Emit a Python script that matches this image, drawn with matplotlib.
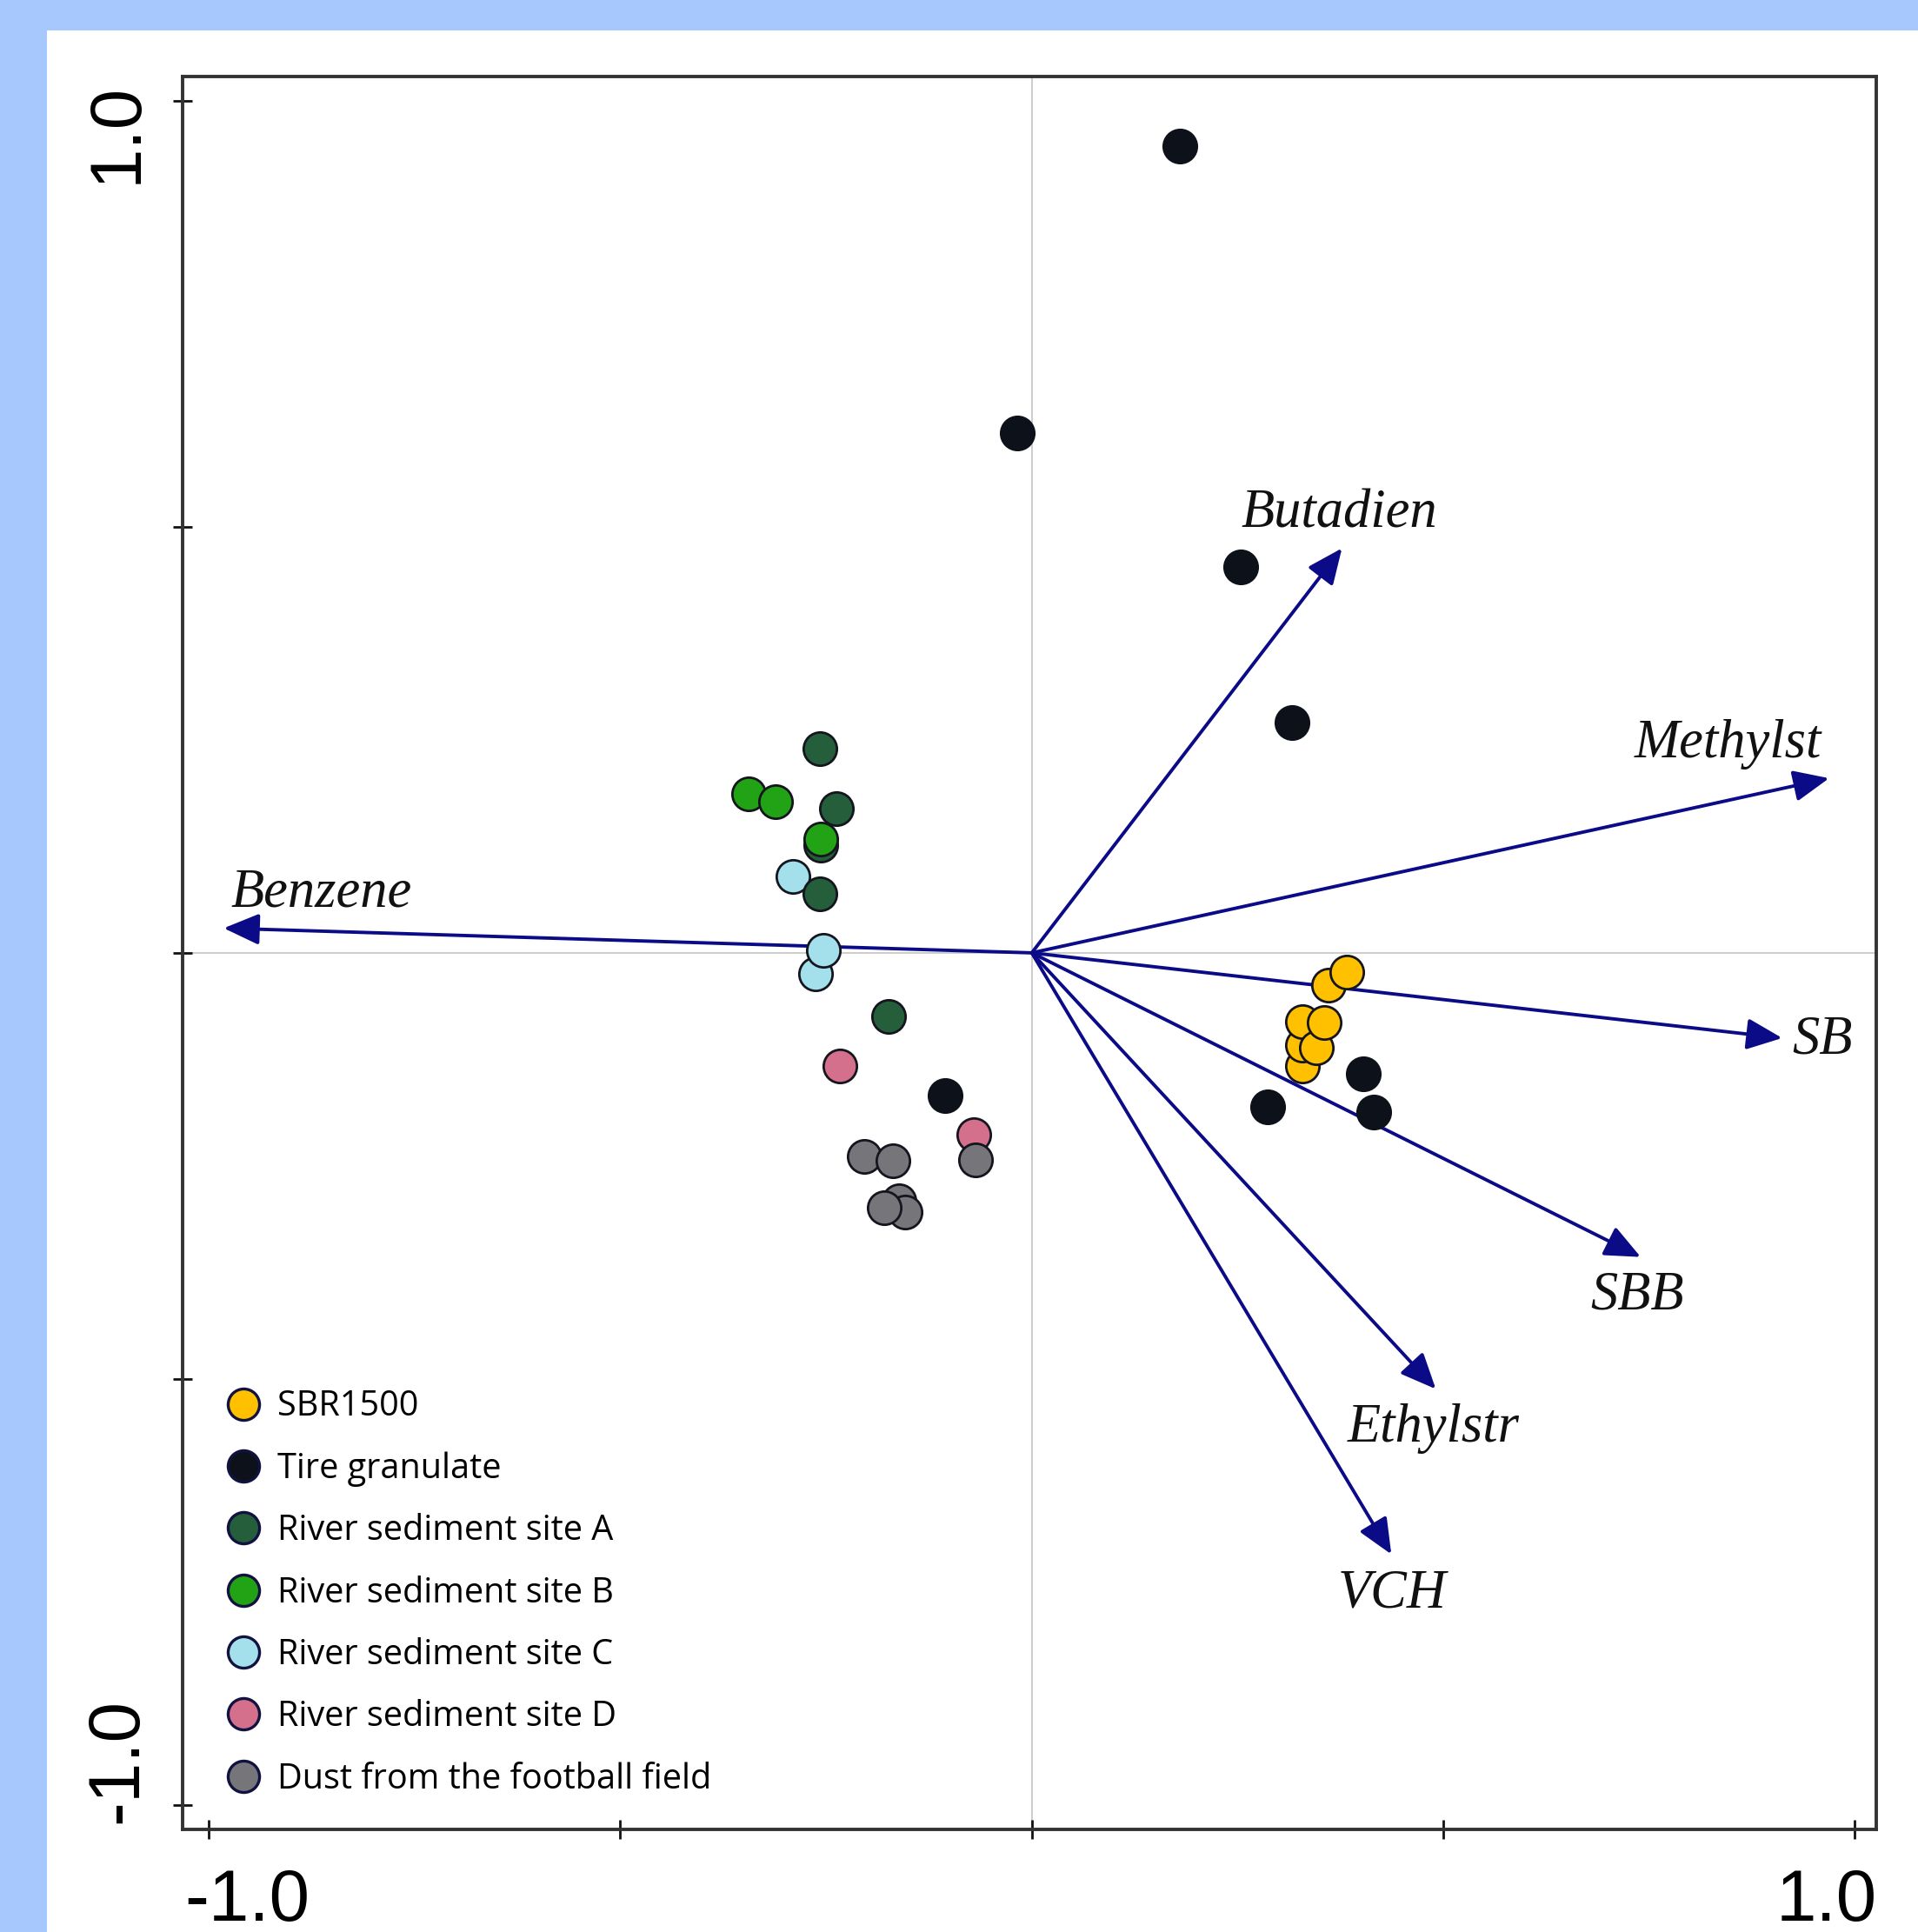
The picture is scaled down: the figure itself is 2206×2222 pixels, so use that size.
import matplotlib
matplotlib.use("Agg")
import matplotlib.pyplot as plt
from matplotlib.patches import Rectangle

# sample scores (axis 1, axis 2)
sbr_x = [0.329, 0.329, 0.329, 0.346, 0.355, 0.361, 0.383]
sbr_y = [-0.133, -0.108, -0.081, -0.111, -0.082, -0.038, -0.023]

tire_x = [0.180, -0.018, 0.254, 0.316, -0.105, 0.403, 0.287, 0.416]
tire_y = [0.947, 0.610, 0.453, 0.270, -0.168, -0.142, -0.181, -0.187]

siteA_x = [-0.257, -0.237, -0.256, -0.257, -0.174]
siteA_y = [0.240, 0.169, 0.126, 0.069, -0.075]

siteB_x = [-0.344, -0.311, -0.256]
siteB_y = [0.187, 0.178, 0.134]

siteC_x = [-0.290, -0.263, -0.253]
siteC_y = [0.090, -0.025, 0.003]

siteD_x = [-0.233, -0.070]
siteD_y = [-0.133, -0.213]

dust_x = [-0.068, -0.204, -0.169, -0.161, -0.154, -0.179]
dust_y = [-0.243, -0.239, -0.244, -0.291, -0.304, -0.299]

# variable loadings (arrows)
var_names = ["Benzene", "Butadien", "Methylst", "SB", "SBB", "Ethylstr", "VCH"]
var_x = [-0.982, 0.377, 0.969, 0.912, 0.740, 0.491, 0.437]
var_y = [0.029, 0.475, 0.205, -0.100, -0.357, -0.512, -0.706]
# where each label sits relative to its arrow tip (points)
label_off = [(81, 29), (-2, 28), (-84, 28), (33, -2), (-3, -32), (-2, -33), (1, -33)]

fig = plt.figure(figsize=(22.06, 22.22), dpi=100, facecolor="#a6c8fc")
# white panel on the blue background
fig.patches.append(Rectangle((0.0245, 0), 1, 0.9842, transform=fig.transFigure,
                             facecolor="white", edgecolor="none", zorder=-5))

ax = fig.add_axes([0.0952, 0.0531, 0.8829, 0.9074])
ax.set_zorder(2)
ax.set_xlim(-1.032, 1.026)
ax.set_ylim(-1.029, 1.029)

# zero lines
ax.axhline(0, color="#c4c4c4", lw=1.2, zorder=1)
ax.axvline(0, color="#c4c4c4", lw=1.2, zorder=1)

# arrows + labels
for name, vx, vy, off in zip(var_names, var_x, var_y, label_off):
    ax.annotate("", xy=(vx, vy), xytext=(0, 0),
                arrowprops=dict(arrowstyle="-|>,head_length=1.25,head_width=0.55",
                                mutation_scale=20, color="#0b0b88", lw=2.8,
                                shrinkA=0, shrinkB=0), zorder=2)
    ax.annotate(name, xy=(vx, vy), xytext=off, textcoords="offset points",
                ha="center", va="center", fontsize=45, style="italic",
                family="Liberation Serif", color="#111111", zorder=3)

edge = "#15151f"
ms = 760
ax.scatter(tire_x, tire_y, s=ms, c="#0d111a", edgecolors="#0d111a", lw=2, zorder=4)
ax.scatter(sbr_x, sbr_y, s=ms, c="#ffc000", edgecolors=edge, lw=2, zorder=4)
ax.scatter(siteC_x, siteC_y, s=ms, c="#a4e0ec", edgecolors=edge, lw=2, zorder=4)
ax.scatter(siteA_x, siteA_y, s=ms, c="#255e3a", edgecolors=edge, lw=2, zorder=4)
ax.scatter(siteB_x, siteB_y, s=ms, c="#22a316", edgecolors=edge, lw=2, zorder=4)
ax.scatter(siteD_x, siteD_y, s=ms, c="#d4708c", edgecolors=edge, lw=2, zorder=4)
ax.scatter(dust_x, dust_y, s=ms, c="#76767a", edgecolors=edge, lw=2, zorder=4)

# legend
leg_labels = ["SBR1500", "Tire granulate", "River sediment site A", "River sediment site B",
              "River sediment site C", "River sediment site D", "Dust from the football field"]
leg_colors = ["#ffc000", "#0d111a", "#255e3a", "#22a316", "#a4e0ec", "#d4708c", "#76767a"]
handles = [plt.Line2D([], [], ls="none", marker="o", markersize=26, markerfacecolor=c,
                      markeredgecolor="#121240", markeredgewidth=2.4) for c in leg_colors]
ax.legend(handles, leg_labels, loc="upper left", bbox_to_anchor=(0.026, 0.251),
          frameon=False, borderpad=0, borderaxespad=0, handlelength=1.0,
          handletextpad=0.47, labelspacing=0.78,
          prop={"family": "Open Sans", "size": 28.5})

# spines and ticks
for s in ax.spines.values():
    s.set_linewidth(2.8)
    s.set_color("#333333")
ax.set_xticks([-1.0, -0.5, 0.0, 0.5, 1.0])
ax.set_yticks([-1.0, -0.5, 0.0, 0.5, 1.0])
ax.set_xticklabels([])
ax.set_yticklabels([])
ax.tick_params(direction="inout", length=16, width=2, color="#111111")

# axis end labels
tfont = dict(family="Liberation Sans", fontsize=60, color="black")
xt = ax.get_xaxis_transform()
ax.text(-0.954, -0.041, "-1.0", transform=xt, ha="center", va="center", clip_on=False, **tfont)
ax.text(0.966, -0.041, "1.0", transform=xt, ha="center", va="center", clip_on=False, **tfont)
yt = ax.get_yaxis_transform()
ax.text(-0.0385, 0.962, "1.0", transform=yt, ha="center", va="center", rotation=90,
        clip_on=False, **tfont)
ax.text(-0.0385, -0.948, "-1.0", transform=yt, ha="center", va="center", rotation=90,
        clip_on=False, **tfont)

fig.savefig("out.png", dpi=100, facecolor=fig.get_facecolor())
